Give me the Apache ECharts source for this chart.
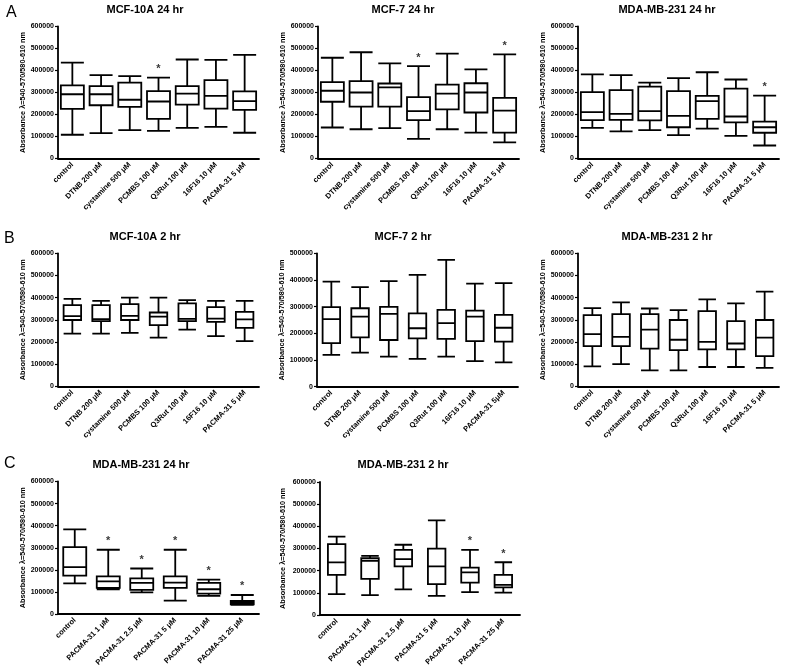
<!DOCTYPE html>
<html><head><meta charset="utf-8">
<script src="https://cdn.jsdelivr.net/npm/echarts@6/dist/echarts.min.js"></script>
<style>html,body{margin:0;padding:0;background:#fff}#c{width:790px;height:671px}</style>
</head><body><div id="c"></div><script>
const FONT = 'Liberation Sans, Arial, Helvetica, sans-serif';

// Categories
const treatCats = ['control', 'DTNB 200 μM', 'cystamine 500 μM', 'PCMBS 100 μM', 'Q3Rut 100 μM', '16F16 10 μM', 'PACMA-31 5 μM'];
const treatCatsB2 = ['control', 'DTNB 200 μM', 'cystamine 500 μM', 'PCMBS 100 μM', 'Q3Rut 100 μM', '16F16 10 μM', 'PACMA-31 5μM'];
const pacmaCats = ['control', 'PACMA-31 1 μM', 'PACMA-31 2.5 μM', 'PACMA-31 5 μM', 'PACMA-31 10 μM', 'PACMA-31 25 μM'];

// Titles
const titles = ['MCF-10A 24 hr', 'MCF-7 24 hr', 'MDA-MB-231 24 hr', 'MCF-10A 2 hr', 'MCF-7 2 hr', 'MDA-MB-231 2 hr', 'MDA-MB-231 24 hr', 'MDA-MB-231 2 hr'];
const yName = 'Absorbance λ=540-570/580-610 nm';
const yMax = [600000, 600000, 600000, 600000, 500000, 600000, 600000, 600000];

// Box values: [min, Q1, median, Q3, max]
const boxA1 = [[108000,226000,292000,332000,436000],[115000,242000,292000,329000,379000],[129000,235000,267000,345000,374000],[126000,180000,259000,306000,368000],[139000,245000,295000,329000,450000],[144000,227000,285000,356000,448000],[117000,221000,261000,305000,471000]];
const boxA2 = [[141000,258000,308000,347000,458000],[133000,236000,300000,352000,483000],[138000,236000,323000,341000,432000],[89000,174000,215000,279000,420000],[133000,223000,295000,336000,477000],[118000,209000,300000,342000,405000],[73000,118000,218000,276000,473000]];
const boxA3 = [[139000,174000,211000,302000,382000],[123000,176000,203000,311000,379000],[129000,173000,215000,327000,345000],[106000,142000,194000,306000,365000],[136000,180000,261000,285000,392000],[103000,164000,191000,318000,359000],[59000,117000,142000,168000,286000]];
const boxB1 = [[238000,299000,317000,366000,394000],[238000,294000,303000,366000,385000],[241000,299000,318000,371000,400000],[220000,276000,314000,333000,400000],[256000,294000,304000,374000,389000],[226000,291000,305000,357000,385000],[204000,264000,302000,336000,385000]];
const boxB2 = [[119000,163000,253000,298000,394000],[128000,185000,263000,294000,373000],[113000,175000,273000,299000,396000],[104000,181000,219000,275000,419000],[113000,179000,238000,288000,475000],[96000,171000,263000,285000,386000],[91000,169000,221000,269000,388000]];
const boxB3 = [[90000,181000,235000,321000,353000],[100000,181000,223000,326000,379000],[72000,170000,256000,326000,351000],[72000,163000,210000,299000,344000],[87000,167000,200000,339000,392000],[87000,167000,193000,294000,374000],[83000,136000,220000,299000,427000]];
const boxC1 = [[139000,174000,212000,303000,383000],[112000,118000,148000,170000,291000],[98000,109000,141000,161000,206000],[61000,118000,142000,170000,291000],[82000,92000,112000,141000,156000],[41000,44000,52000,59000,86000]];
const boxC2 = [[94000,181000,237000,320000,354000],[90000,163000,244000,256000,267000],[116000,219000,252000,294000,317000],[86000,139000,219000,299000,427000],[103000,146000,192000,214000,294000],[101000,125000,136000,181000,238000]];

// Significance markers (1 = asterisk)
const sigA1 = [0,0,0,1,0,0,0];
const sigA2 = [0,0,0,1,0,0,1];
const sigA3 = [0,0,0,0,0,0,1];
const sigB1 = [0,0,0,0,0,0,0];
const sigB2 = [0,0,0,0,0,0,0];
const sigB3 = [0,0,0,0,0,0,0];
const sigC1 = [0,1,1,1,1,1];
const sigC2 = [0,0,0,0,1,1];

const panelData = [
  {cats: treatCats, box: boxA1, sig: sigA1},
  {cats: treatCats, box: boxA2, sig: sigA2},
  {cats: treatCats, box: boxA3, sig: sigA3},
  {cats: treatCats, box: boxB1, sig: sigB1},
  {cats: treatCatsB2, box: boxB2, sig: sigB2},
  {cats: treatCats, box: boxB3, sig: sigB3},
  {cats: pacmaCats, box: boxC1, sig: sigC1},
  {cats: pacmaCats, box: boxC2, sig: sigC2}
];

// Layout (positions / sizes)
const layout = [
  {left: 58,  top: 26.5,  width: 201, height: 132, bw: 23,   tx: 145, ty: 4,   gap: 31},
  {left: 318, top: 26.5,  width: 201, height: 132, bw: 23,   tx: 403, ty: 4,   gap: 31},
  {left: 578, top: 26.5,  width: 201, height: 132, bw: 23,   tx: 667, ty: 4,   gap: 31},
  {left: 58,  top: 253.3, width: 201, height: 133, bw: 17.5, tx: 145, ty: 231, gap: 31},
  {left: 317, top: 253.3, width: 201, height: 133.4, bw: 17.5, tx: 403, ty: 231, gap: 31},
  {left: 578, top: 253.3, width: 201, height: 133, bw: 17.5, tx: 667, ty: 231, gap: 31},
  {left: 58,  top: 481.5, width: 201, height: 132.5, bw: 23, tx: 141, ty: 459, gap: 31},
  {left: 320, top: 482,   width: 200, height: 133, bw: 17.5, tx: 403, ty: 459, gap: 34}
];
const letters = [{t: 'A', x: 6, y: 5}, {t: 'B', x: 4, y: 231}, {t: 'C', x: 4, y: 456}];

const grid = [], xAxis = [], yAxis = [], series = [], title = [];
panelData.forEach((p, i) => {
  const L = layout[i];
  grid.push({left: L.left, top: L.top, width: L.width, height: L.height, containLabel: false});
  title.push({text: titles[i], left: L.tx, top: L.ty, textAlign: 'center', padding: 0,
    textStyle: {fontFamily: FONT, fontSize: 11, fontWeight: 'bold', color: '#000'}});
  xAxis.push({type: 'category', gridIndex: i, data: p.cats, boundaryGap: true,
    axisLine: {lineStyle: {color: '#000', width: 1.8}},
    axisTick: {alignWithLabel: true, length: 3, lineStyle: {color: '#000', width: 1.2}},
    axisLabel: {interval: 0, rotate: 45, margin: 5, fontFamily: FONT, fontSize: 7.5, fontWeight: 'bold', color: '#000'},
    splitLine: {show: false}});
  yAxis.push({type: 'value', gridIndex: i, min: 0, max: yMax[i], interval: 100000,
    name: yName, nameLocation: 'middle', nameGap: L.gap, nameRotate: 90,
    nameTextStyle: {fontFamily: FONT, fontSize: 7.3, fontWeight: 'bold', color: '#000'},
    axisLine: {show: true, lineStyle: {color: '#000', width: 1.8}},
    axisTick: {show: true, length: 3, lineStyle: {color: '#000', width: 1.2}},
    axisLabel: {margin: 4, fontFamily: FONT, fontSize: 7, fontWeight: 'bold', color: '#000', formatter: v => String(v)},
    splitLine: {show: false}});
  series.push({type: 'boxplot', xAxisIndex: i, yAxisIndex: i, data: p.box,
    boxWidth: [L.bw, L.bw], silent: true,
    itemStyle: {color: '#fff', borderColor: '#000', borderWidth: 1.8}});
  const stars = [];
  p.sig.forEach((s, k) => { if (s) stars.push([k, p.box[k][4]]); });
  series.push({type: 'scatter', xAxisIndex: i, yAxisIndex: i, data: stars, symbolSize: 0.1, silent: true,
    itemStyle: {color: 'rgba(0,0,0,0)'},
    label: {show: true, position: 'top', distance: 3, formatter: '*', fontFamily: FONT, fontSize: 11, fontWeight: 'bold', color: '#000'}});
});

const chart = echarts.init(document.getElementById('c'), null, {renderer: 'canvas'});
chart.setOption({
  animation: false,
  backgroundColor: '#fff',
  title, grid, xAxis, yAxis, series,
  graphic: letters.map(l => ({type: 'text', left: l.x, top: l.y, silent: true,
    style: {text: l.t, fontFamily: FONT, fontSize: 16, fontWeight: 'normal', fill: '#000'}}))
});
</script></body></html>
